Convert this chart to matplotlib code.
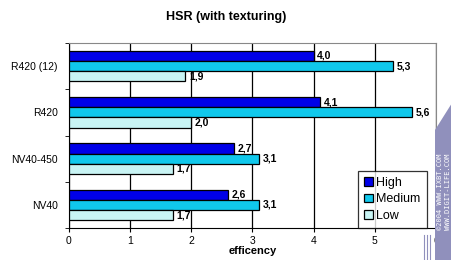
import numpy as np
import matplotlib.pyplot as plt
from matplotlib.patches import Polygon

categories = ["R420 (12)", "R420", "NV40-450", "NV40"]
high = [4.0, 4.1, 2.7, 2.6]
medium = [5.3, 5.6, 3.1, 3.1]
low = [1.9, 2.0, 1.7, 1.7]
series_names = ["High", "Medium", "Low"]
x_ticks = [0, 1, 2, 3, 4, 5, 6]

plt.rcParams["font.family"] = ["Liberation Sans", "DejaVu Sans"]

fig = plt.figure(figsize=(4.52, 2.60), dpi=100)
ax = fig.add_axes([69 / 452, 1 - 228 / 260, (436 - 69) / 452, (228 - 43) / 260])

y = np.arange(len(categories))
h = 0.22
colors = ["#0000e8", "#10c8ec", "#c8f4f4"]
for vals, off, col, name in zip([high, medium, low], [-h, 0, h], colors, series_names):
    bars = ax.barh(y + off, vals, height=h, color=col, edgecolor="black",
                   linewidth=0.9, label=name, zorder=3)
    for b, v in zip(bars, vals):
        ax.text(b.get_width() + 0.06, b.get_y() + b.get_height() / 2,
                f"{v:.1f}".replace(".", ","), va="center", ha="left",
                fontsize=7.5, fontweight="bold", zorder=4)

ax.set_xlim(0, 6)
ax.set_ylim(3.5, -0.5)
ax.set_xticks(x_ticks)
ax.tick_params(axis="x", labelsize=7.5, length=3, pad=3)
ax.set_yticks(y)
ax.set_yticklabels(categories, fontsize=7.5)
ax.tick_params(axis="y", length=0, pad=8)
ax.set_yticks(np.arange(-0.5, 4, 1), minor=True)
ax.tick_params(axis="y", which="minor", length=3)
ax.grid(axis="x", color="black", linewidth=0.9, zorder=0)
for s in ["top", "right"]:
    ax.spines[s].set_color("#888888")
ax.spines["left"].set_color("black")
ax.spines["bottom"].set_color("black")

ax.set_xlabel("efficency", fontsize=8, fontweight="bold", labelpad=0)
fig.text(0.5, 1 - 17 / 260, "HSR (with texturing)", ha="center", va="center",
         fontsize=9, fontweight="bold")

leg = fig.legend(loc="lower right", bbox_to_anchor=(427 / 452, 1 - 228 / 260),
                 fontsize=9, frameon=True, fancybox=False, handlelength=0.7,
                 handleheight=0.7, handletextpad=0.3, borderpad=0.5,
                 labelspacing=0.35, borderaxespad=0)
leg.get_frame().set_edgecolor("black")
leg.get_frame().set_linewidth(0.9)
leg.set_zorder(5)

# watermark band
band = Polygon([(435 / 452, 0), (435 / 452, 1 - 130 / 260), (1, 1 - 103 / 260), (1, 0)],
               closed=True, transform=fig.transFigure, facecolor="#9090bc",
               edgecolor="none", zorder=6)
fig.add_artist(band)
for xp in [424, 427, 430]:
    fig.add_artist(plt.Line2D([xp / 452, xp / 452], [0, 1 - 235 / 260],
                              transform=fig.transFigure, color="#9090bc", lw=0.8, zorder=6))
fig.text(440 / 452, 1 - 192 / 260, "©2004 WWW.IXBT.COM", rotation=90, ha="center",
         va="center", color="white", fontsize=5, family="DejaVu Sans Mono", zorder=7)
fig.text(448 / 452, 1 - 192 / 260, "WWW.DIGIT-LIFE.COM", rotation=90, ha="center",
         va="center", color="white", fontsize=5, family="DejaVu Sans Mono", zorder=7)

fig.savefig("out.png", dpi=100)
